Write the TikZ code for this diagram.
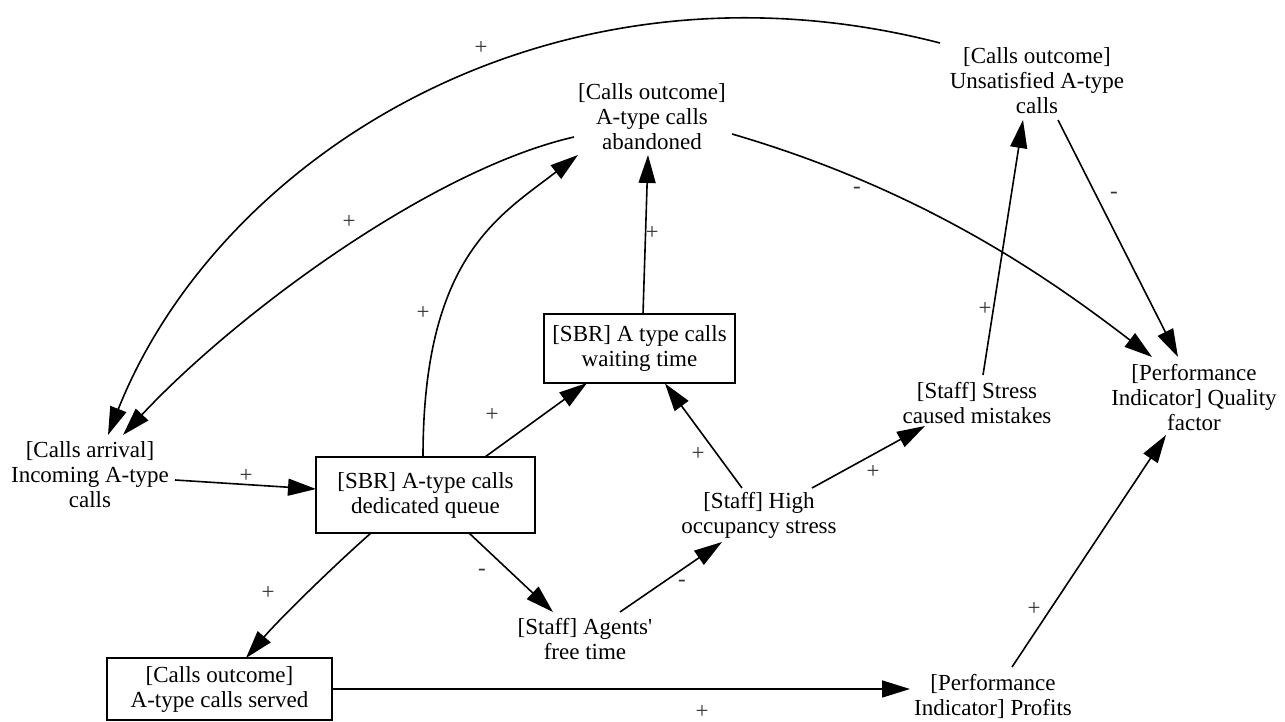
\documentclass[tikz,border=0pt]{standalone}
\usepackage{fontspec}
\setmainfont{Liberation Serif}
\usetikzlibrary{arrows.meta}
\begin{document}
\begin{tikzpicture}[x=1pt,y=-1pt,
  every node/.style={font=\fontsize{23}{25}\selectfont, align=center, inner sep=0pt},
  stockbox/.style={draw, line width=1.6pt},
  link/.style={line width=1.6pt, -{Triangle[length=28pt,width=17pt]}},
  sign/.style={font=\fontsize{23}{23}\selectfont, text=black!80}
]
\useasboundingbox (0,0) rectangle (1285,722);

% variables
\node (A) at (90,475) {[Calls arrival]\\Incoming A-type\\calls};
\node[stockbox, minimum width=219pt, minimum height=76pt] (Q) at (425.5,495) {[SBR] A-type calls\\dedicated queue};
\node[stockbox, minimum width=191pt, minimum height=69pt] (W) at (639.5,348.5) {[SBR] A type calls\\waiting time};
\node[stockbox, minimum width=225pt, minimum height=62pt] (S) at (219.5,689) {[Calls outcome]\\A-type calls served};
\node (AB) at (652,117) {[Calls outcome]\\A-type calls\\abandoned};
\node (U) at (1037,81) {[Calls outcome]\\Unsatisfied A-type\\calls};
\node (QF) at (1194,398) {[Performance\\Indicator] Quality\\factor};
\node (SM) at (977,403) {[Staff] Stress\\caused mistakes};
\node (H) at (759,515) {[Staff] High\\occupancy stress};
\node (F) at (585,639) {[Staff] Agents\textquotesingle\\free time};
\node (P) at (993,696) {[Performance\\Indicator] Profits};

% causal links
\draw[link] ([shift={(-97,-38)}]U.center) .. controls (552,-57) and (219,156) .. ([shift={(18,-40)}]A.center);
\draw[link] ([shift={(-78,20)}]AB.center) .. controls (430,170) and (235,315) .. ([shift={(33,-40)}]A.center);
\draw[link] ([shift={(-2.5,-38)}]Q.center) .. controls (423,257) and (499,216) .. ([shift={(-74,38)}]AB.center);
\draw[link] ([shift={(3.5,-34.5)}]W.center) -- ([shift={(-4,38)}]AB.center);
\draw[link] ([shift={(80,17)}]AB.center) .. controls (924,190) and (1049,278) .. ([shift={(-42,-41)}]QF.center);
\draw[link] ([shift={(21,39)}]U.center) -- ([shift={(-16,-41)}]QF.center);
\draw[link] ([shift={(6,-28)}]SM.center) -- ([shift={(-14,39)}]U.center);
\draw[link] ([shift={(85,5)}]A.center) -- ([shift={(-109.5,-6)}]Q.center);
\draw[link] ([shift={(59.5,-38)}]Q.center) -- ([shift={(-52.5,34.5)}]W.center);
\draw[link] ([shift={(-17,-27)}]H.center) -- ([shift={(25.5,35)}]W.center);
\draw[link] ([shift={(53,-27)}]H.center) -- ([shift={(-52,23)}]SM.center);
\draw[link] ([shift={(43.5,38)}]Q.center) -- ([shift={(-32,-27)}]F.center);
\draw[link] ([shift={(35,-27)}]F.center) -- ([shift={(-37,27)}]H.center);
\draw[link] ([shift={(-54.5,38)}]Q.center) .. controls (333.5,566) and (279,619.5) .. ([shift={(26.5,-31)}]S.center);
\draw[link] ([shift={(112.5,0)}]S.center) -- ([shift={(-83,-7)}]P.center);
\draw[link] ([shift={(19,-29)}]P.center) -- ([shift={(-28,37)}]QF.center);

% polarity signs
\node[sign] (s1) at (481,48) {+};
\node[sign] (s2) at (349,222) {+};
\node[sign] (s3) at (423,313) {+};
\node[sign] (s4) at (652,233) {+};
\node[sign] (s5) at (857,190) {-};
\node[sign] (s6) at (1114,195) {-};
\node[sign] (s7) at (985,309) {+};
\node[sign] (s8) at (246,476) {+};
\node[sign] (s9) at (492,415) {+};
\node[sign] (s10) at (698,454) {+};
\node[sign] (s11) at (873,472) {+};
\node[sign] (s12) at (482,572) {-};
\node[sign] (s13) at (682,583) {-};
\node[sign] (s14) at (268,593) {+};
\node[sign] (s15) at (702,712) {+};
\node[sign] (s16) at (1034,609) {+};
\end{tikzpicture}
\end{document}
